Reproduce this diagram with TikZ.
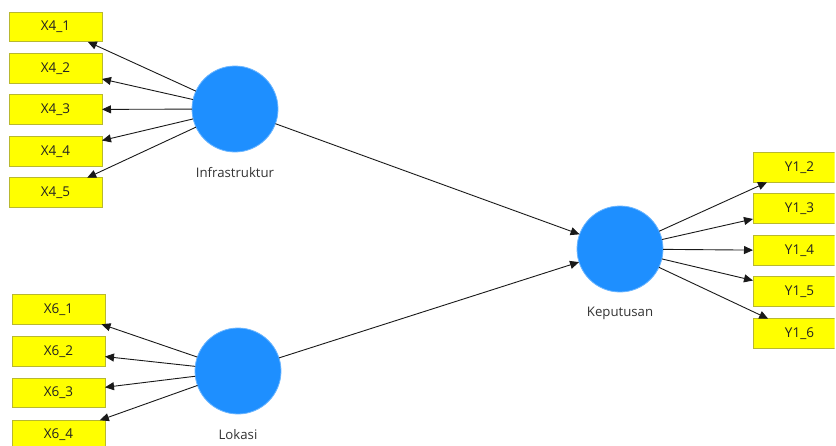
\documentclass[tikz,border=0pt]{standalone}
\usepackage{fontspec}
\setmainfont{Open Sans}
\usetikzlibrary{arrows.meta}
\definecolor{boxyellow}{HTML}{FFFF00}
\definecolor{boxedge}{HTML}{B8B830}
\definecolor{lvblue}{HTML}{1E8FFF}
\definecolor{lvedge}{HTML}{6CB6FF}
\definecolor{txt}{HTML}{222222}
\definecolor{lbl}{HTML}{333333}
\tikzset{
  indicator/.style={draw=boxedge, line width=0.6pt, fill=boxyellow, minimum width=93pt, minimum height=29.5pt, inner sep=0pt, outer sep=0pt, font=\fontsize{13.5}{16}\selectfont, text=txt},
  latent/.style={circle, draw=lvedge, line width=0.8pt, fill=lvblue, minimum size=86pt, inner sep=0pt, outer sep=0pt},
  lvlabel/.style={font=\fontsize{13.2}{16}\selectfont, text=lbl, inner sep=0pt},
  conn/.style={draw=black!90, line width=0.9pt, -{Triangle[length=9pt,width=8pt]}}
}
\begin{document}
\begin{tikzpicture}[x=1pt,y=-1pt]
\useasboundingbox (0,0) rectangle (836,445);
\clip (0,0) rectangle (834.5,445);
% latent variables
\node[latent] (inf) at (235,109) {};
\node[latent] (lok) at (238,371) {};
\node[latent] (kep) at (620,249) {};
\node[lvlabel] (linf) at (235,173) {Infrastruktur};
\node[lvlabel] (llok) at (238,435) {Lokasi};
\node[lvlabel] (lkep) at (620,313) {Keputusan};
% indicators X4
\node[indicator] (x41) at (55.5,27) {X4\_1};
\node[indicator] (x42) at (55.5,68.5) {X4\_2};
\node[indicator] (x43) at (55.5,109.5) {X4\_3};
\node[indicator] (x44) at (55.5,151.5) {X4\_4};
\node[indicator] (x45) at (55.5,192.5) {X4\_5};
% indicators X6
\node[indicator] (x61) at (58.5,309.5) {X6\_1};
\node[indicator] (x62) at (58.5,351.5) {X6\_2};
\node[indicator] (x63) at (58.5,393) {X6\_3};
\node[indicator] (x64) at (58.5,435) {X6\_4};
% indicators Y1
\node[indicator] (y12) at (799.5,167.5) {Y1\_2};
\node[indicator] (y13) at (799.5,208.5) {Y1\_3};
\node[indicator] (y14) at (799.5,250.5) {Y1\_4};
\node[indicator] (y15) at (799.5,291.5) {Y1\_5};
\node[indicator] (y16) at (799.5,333.5) {Y1\_6};
% connectors
\foreach \t in {x41,x42,x43,x44,x45} \draw[conn] (inf) -- (\t);
\foreach \t in {x61,x62,x63,x64} \draw[conn] (lok) -- (\t);
\foreach \t in {y12,y13,y14,y15,y16} \draw[conn] (kep) -- (\t);
\draw[conn] (inf) -- (kep);
\draw[conn] (lok) -- (kep);
\end{tikzpicture}
\end{document}
